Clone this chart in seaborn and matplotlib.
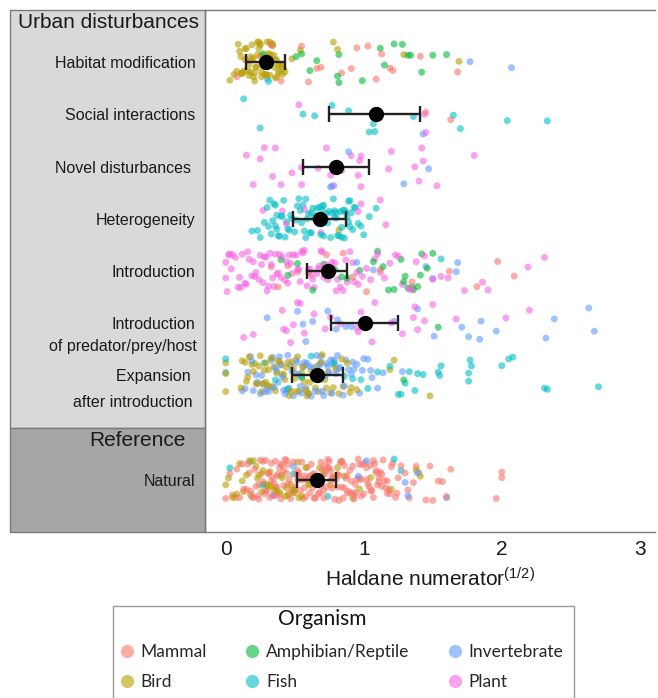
import numpy as np
import pandas as pd
import matplotlib
matplotlib.use("Agg")
import matplotlib.pyplot as plt
import matplotlib.patches as mpatches
from matplotlib.lines import Line2D
import seaborn as sns

sns.set_style("white")
plt.rcParams["font.family"] = ["Liberation Sans", "DejaVu Sans"]
plt.rcParams["mathtext.fontset"] = "custom"
plt.rcParams["mathtext.rm"] = "Liberation Sans"
plt.rcParams["mathtext.it"] = "Liberation Sans"

# ---- categories (top to bottom); the blank slot separates the reference group
CATEGORIES = ["Habitat modification", "Social interactions", "Novel disturbances",
              "Heterogeneity", "Introduction", "Introduction of predator/prey/host",
              "Expansion after introduction", " ", "Natural"]
TICK_LABELS = ["Habitat modification", "Social interactions", "Novel disturbances ",
               "Heterogeneity", "Introduction", "Introduction", "Expansion ", "", "Natural"]
ORGANISMS = ["Mammal", "Bird", "Amphibian/Reptile", "Fish", "Invertebrate", "Plant"]
COLORS = ["#F8766D", "#B79F00", "#00BA38", "#00BFC4", "#619CFF", "#F564E3"]

# ---- model estimates (mean and interval) per category
EST_CATEGORY = ["Habitat modification", "Social interactions", "Novel disturbances",
                "Heterogeneity", "Introduction", "Introduction of predator/prey/host",
                "Expansion after introduction", "Natural"]
EST_MEAN = [0.29, 1.09, 0.80, 0.68, 0.74, 1.01, 0.66, 0.66]
EST_LOW = [0.145, 0.75, 0.56, 0.49, 0.59, 0.76, 0.48, 0.52]
EST_HIGH = [0.43, 1.41, 1.04, 0.87, 0.88, 1.25, 0.85, 0.80]

# ---- observed values per category and organism
habitat = {
    "Bird": [0.03, 0.06, 0.08, 0.10, 0.11, 0.12, 0.13, 0.14, 0.15, 0.16, 0.17, 0.18, 0.19,
             0.20, 0.20, 0.21, 0.22, 0.23, 0.24, 0.25, 0.25, 0.26, 0.27, 0.28, 0.28, 0.29,
             0.30, 0.31, 0.32, 0.33, 0.33, 0.34, 0.35, 0.36, 0.37, 0.38, 0.39, 0.40, 0.41,
             0.42, 0.43, 0.12, 0.18, 0.24, 0.31, 0.36, 0.48, 0.54, 0.78, 0.81, 1.29, 1.69,
             0.09, 0.14, 0.17, 0.21, 0.23, 0.26, 0.29, 0.30, 0.32, 0.34, 0.35, 0.38, 0.40,
             0.27, 0.19, 0.37, 0.22, 0.33],
    "Mammal": [0.08, 0.11, 0.33, 0.40, 0.55, 0.60, 0.66, 0.69, 0.84, 0.91, 0.95, 1.03,
               1.09, 1.13, 1.19, 1.21, 1.41, 1.68, 0.16, 0.25],
    "Amphibian/Reptile": [0.27, 0.51, 0.55, 0.61, 0.66, 0.81, 0.82, 0.82, 0.99, 1.12,
                          1.15, 1.22, 1.28, 1.32, 1.34, 1.42, 1.50, 1.60],
    "Invertebrate": [0.30, 1.77, 2.07],
    "Fish": [0.31],
}
social = {
    "Fish": [0.13, 0.25, 0.56, 0.645, 0.77, 0.89, 1.04, 1.07, 1.08, 1.36, 1.65, 1.70,
             2.04, 2.33],
    "Mammal": [1.45, 1.63],
    "Plant": [0.53, 1.44, 1.45],
    "Invertebrate": [1.43],
}
novel = {
    "Plant": [0.15, 0.20, 0.25, 0.28, 0.34, 0.36, 0.40, 0.48, 0.55, 0.55, 0.67, 0.73,
              0.76, 0.785, 0.81, 0.84, 0.91, 0.96, 0.97, 0.98, 0.98, 1.18, 1.20, 1.37,
              1.40, 1.42, 1.43, 1.53, 1.80],
    "Invertebrate": [0.76, 0.77, 0.89, 1.29, 1.47],
}
heterogeneity = {
    "Fish": [0.19, 0.23, 0.25, 0.28, 0.30, 0.31, 0.33, 0.34, 0.35, 0.36, 0.37, 0.37, 0.38,
             0.39, 0.40, 0.42, 0.43, 0.45, 0.47, 0.48, 0.50, 0.51, 0.52, 0.53, 0.55, 0.56,
             0.57, 0.58, 0.60, 0.61, 0.62, 0.63, 0.64, 0.66, 0.67, 0.68, 0.69, 0.70, 0.71,
             0.72, 0.73, 0.74, 0.76, 0.77, 0.78, 0.79, 0.80, 0.81, 0.82, 0.83, 0.84, 0.85,
             0.86, 0.87, 0.88, 0.89, 0.89, 0.90, 0.91, 0.92, 0.93, 0.94, 0.96, 0.98, 1.00,
             1.04, 1.09, 0.41, 0.54, 0.65, 0.75, 0.62, 0.36, 0.86, 0.80, 0.70, 0.32, 0.46,
             0.58, 0.68, 0.79, 0.84, 0.90, 0.44, 0.59, 0.71],
    "Plant": [0.27, 0.41, 0.44, 0.57, 0.69, 0.96, 0.98, 1.12, 1.16],
    "Bird": [0.82],
}
introduction = {
    "Plant": [0.00, 0.00, 0.01, 0.02, 0.04, 0.05, 0.07, 0.09, 0.10, 0.12, 0.14, 0.16, 0.17,
              0.19, 0.21, 0.22, 0.24, 0.26, 0.27, 0.29, 0.30, 0.31, 0.33, 0.34, 0.35, 0.37,
              0.38, 0.39, 0.41, 0.43, 0.44, 0.46, 0.48, 0.49, 0.51, 0.52, 0.54, 0.56, 0.57,
              0.59, 0.61, 0.62, 0.64, 0.66, 0.67, 0.69, 0.71, 0.73, 0.75, 0.77, 0.79, 0.81,
              0.83, 0.85, 0.88, 0.90, 0.93, 0.96, 0.99, 1.02, 1.05, 1.08, 1.12, 1.15, 1.19,
              1.23, 1.28, 1.33, 1.38, 1.44, 1.50, 1.56, 1.61, 1.73, 1.86, 1.90, 2.19, 2.31,
              0.15, 0.28, 0.45, 0.53, 0.60, 0.70, 0.36, 0.92, 0.03, 0.11, 0.20, 0.25, 0.32,
              0.40, 0.47, 0.55, 0.63, 0.68, 0.74, 0.80, 0.87, 0.95, 1.10, 1.25, 1.35],
    "Mammal": [0.33, 0.38, 0.45, 0.52, 0.60, 0.73, 0.85, 0.92, 1.02, 1.12, 1.35, 1.62,
               1.82, 1.97, 2.09],
    "Amphibian/Reptile": [0.40, 0.45, 0.52, 0.63, 0.71, 0.79, 0.84, 0.88, 0.97, 1.07, 1.10,
                          1.14, 1.18, 1.22, 1.27, 1.29, 1.32, 1.35, 1.39, 1.42, 1.46, 1.50,
                          1.30, 1.36, 1.41],
    "Invertebrate": [0.95, 1.07, 1.45, 1.50, 1.67, 1.68],
    "Fish": [1.56],
}
predator = {
    "Plant": [0.13, 0.20, 0.41, 0.44, 0.49, 0.54, 0.57, 0.64, 0.72, 0.76, 0.83, 0.95, 0.96,
              0.98, 1.06, 1.08, 1.20, 1.28, 1.36, 1.37, 1.39, 1.44, 1.50, 1.67, 2.03, 2.20,
              0.42, 0.47, 0.52],
    "Invertebrate": [0.30, 0.52, 0.56, 0.58, 0.63, 0.74, 0.80, 0.81, 0.87, 0.91, 1.22, 1.39,
                     1.51, 1.71, 1.76, 1.84, 1.85, 1.96, 2.32, 2.38, 2.63, 2.67],
    "Amphibian/Reptile": [1.54],
}
expansion = {
    "Bird": [0.00, 0.00, 0.00, 0.11, 0.14, 0.17, 0.19, 0.21, 0.23, 0.24, 0.26, 0.28, 0.29,
             0.31, 0.32, 0.34, 0.35, 0.36, 0.38, 0.39, 0.41, 0.42, 0.44, 0.45, 0.47, 0.48,
             0.50, 0.51, 0.53, 0.55, 0.56, 0.58, 0.60, 0.61, 0.63, 0.65, 0.66, 0.68, 0.70,
             0.72, 0.74, 0.76, 0.78, 0.80, 0.82, 0.85, 0.88, 0.91, 0.95, 1.19, 1.22, 1.48,
             0.22, 0.33, 0.40, 0.27, 0.52, 0.69, 0.12, 0.16, 0.20, 0.25, 0.30, 0.37, 0.43,
             0.49, 0.57, 0.62, 0.67, 0.73, 0.79, 0.84, 0.90, 0.15, 0.29, 0.46, 0.59],
    "Invertebrate": [0.12, 0.14, 0.16, 0.18, 0.20, 0.22, 0.23, 0.25, 0.27, 0.28, 0.30, 0.31,
                     0.33, 0.35, 0.36, 0.38, 0.39, 0.40, 0.42, 0.43, 0.45, 0.46, 0.48, 0.49,
                     0.50, 0.52, 0.53, 0.54, 0.56, 0.57, 0.58, 0.60, 0.61, 0.62, 0.64, 0.65,
                     0.66, 0.68, 0.69, 0.71, 0.72, 0.74, 0.75, 0.77, 0.78, 0.80, 0.82, 0.83,
                     0.85, 0.87, 0.89, 0.91, 0.93, 0.95, 0.97, 1.00, 1.03, 1.06, 1.10, 1.14,
                     1.28, 0.34, 0.44, 0.59, 0.70, 0.79, 0.19, 0.26, 0.37, 0.47, 0.51, 0.55,
                     0.63, 0.67, 0.73, 0.76, 0.81, 0.86, 0.92, 0.99, 1.05, 0.41, 0.58, 0.69],
    "Fish": [0.00, 0.00, 0.28, 0.36, 0.45, 0.55, 0.62, 0.70, 0.78, 0.86, 0.92, 0.98, 1.03,
             1.10, 1.19, 1.25, 1.27, 1.30, 1.33, 1.37, 1.39, 1.43, 1.54, 1.55, 1.56, 1.76,
             1.76, 1.77, 1.78, 2.00, 2.05, 2.08, 2.31, 2.33, 2.70],
    "Amphibian/Reptile": [0.55, 1.29],
}
natural = {
    "Bird": [0.00, 0.02, 0.05, 0.08, 0.10, 0.13, 0.15, 0.18, 0.20, 0.22, 0.24, 0.26, 0.28,
             0.30, 0.32, 0.33, 0.35, 0.37, 0.39, 0.41, 0.43, 0.45, 0.47, 0.50, 0.52, 0.55,
             0.58, 0.61, 0.64, 0.68, 0.72, 0.76, 0.81, 0.86, 0.92, 1.20, 1.38, 1.41, 0.12,
             0.17, 0.23, 0.27, 0.31, 0.36, 0.40, 0.44, 0.49, 0.53, 0.60, 0.66, 0.70, 0.78,
             0.84, 0.97, 1.05],
    "Fish": [0.03, 0.18, 0.27, 0.49, 0.74, 1.22, 1.27],
    "Invertebrate": [0.34, 0.49, 0.96, 1.02, 1.30, 1.32, 1.39, 1.60],
    "Mammal": [0.00, 0.03, 0.05, 0.07, 0.08, 0.10, 0.12, 0.13, 0.15, 0.16, 0.17, 0.19, 0.20,
               0.21, 0.22, 0.23, 0.24, 0.25, 0.26, 0.27, 0.28, 0.29, 0.30, 0.31, 0.31, 0.32,
               0.33, 0.34, 0.35, 0.36, 0.36, 0.37, 0.38, 0.39, 0.40, 0.40, 0.41, 0.42, 0.43,
               0.44, 0.45, 0.45, 0.46, 0.47, 0.48, 0.49, 0.50, 0.50, 0.51, 0.52, 0.53, 0.54,
               0.55, 0.55, 0.56, 0.57, 0.58, 0.59, 0.60, 0.60, 0.61, 0.62, 0.63, 0.64, 0.65,
               0.65, 0.66, 0.67, 0.68, 0.69, 0.70, 0.71, 0.72, 0.72, 0.73, 0.74, 0.75, 0.76,
               0.77, 0.78, 0.79, 0.80, 0.81, 0.82, 0.83, 0.84, 0.85, 0.86, 0.87, 0.88, 0.89,
               0.90, 0.91, 0.92, 0.93, 0.94, 0.95, 0.96, 0.97, 0.98, 0.99, 1.00, 1.01, 1.02,
               1.03, 1.04, 1.05, 1.06, 1.07, 1.08, 1.09, 1.10, 1.11, 1.12, 1.13, 1.14, 1.15,
               1.16, 1.17, 1.18, 1.19, 1.21, 1.23, 1.25, 1.27, 1.30, 1.33, 1.36, 1.40, 1.45,
               1.50, 1.54, 1.57, 1.60, 1.63, 1.96, 2.00, 2.00, 0.18, 0.24, 0.29, 0.33, 0.37,
               0.42, 0.46, 0.49, 0.53, 0.57, 0.61, 0.64, 0.67, 0.71, 0.74, 0.77, 0.81, 0.84,
               0.88, 0.91, 0.94, 0.98, 1.02, 1.05, 1.09, 1.13, 1.17, 1.20, 0.27, 0.39, 0.52,
               0.63, 0.75, 0.86, 0.97, 1.07, 0.44, 0.58, 0.69, 0.82, 0.93, 1.11, 0.35, 0.76,
               1.24, 1.32, 1.38, 1.48],
}

GROUPS = {
    "Habitat modification": habitat,
    "Social interactions": social,
    "Novel disturbances": novel,
    "Heterogeneity": heterogeneity,
    "Introduction": introduction,
    "Introduction of predator/prey/host": predator,
    "Expansion after introduction": expansion,
    "Natural": natural,
}

rows = []
for cat, by_org in GROUPS.items():
    for org, vals in by_org.items():
        for v in vals:
            rows.append((cat, org, v))
df = pd.DataFrame(rows, columns=["category", "organism", "value"])
df = df.sample(frac=1.0, random_state=7).reset_index(drop=True)

W, H = 658, 698
fig = plt.figure(figsize=(W / 100, H / 100), dpi=100)

def fx(px):
    return px / W

def fy(py):
    return 1 - py / H

# side panels for the two groups (behind the axes and its tick labels)
edge = "#7a7a7a"
fig.patches.append(mpatches.Rectangle((fx(10), fy(428)), fx(195), 418 / H,
                                      transform=fig.transFigure, facecolor="#d9d9d9",
                                      edgecolor=edge, lw=1.0, zorder=-2))
fig.patches.append(mpatches.Rectangle((fx(10), fy(532)), fx(195), 104 / H,
                                      transform=fig.transFigure, facecolor="#a6a6a6",
                                      edgecolor=edge, lw=1.0, zorder=-2))
fig.text(fx(18), fy(22), "Urban disturbances", fontsize=15, ha="left", va="center",
         color="#1a1a1a")
fig.text(fx(137), fy(441), "Reference", fontsize=15, ha="center", va="center",
         color="#1a1a1a")

ax = fig.add_axes([fx(205), fy(532), fx(450), 522 / H])
ax.set_facecolor("none")

np.random.seed(11)
sns.stripplot(data=df, x="value", y="category", hue="organism", order=CATEGORIES,
              hue_order=ORGANISMS, palette=COLORS, jitter=0.4, size=5.0, alpha=0.6,
              linewidth=0, legend=False, ax=ax, zorder=2)

pos = [CATEGORIES.index(c) for c in EST_CATEGORY]
mean = np.array(EST_MEAN)
ax.errorbar(mean, pos, xerr=[mean - np.array(EST_LOW), np.array(EST_HIGH) - mean],
            fmt="o", color="black", ecolor="#222222", ms=10, elinewidth=1.7,
            capsize=5.5, capthick=1.7, zorder=5)

ax.set_ylim(9, -1)
ax.set_xlim(-0.15, 3.11)
ax.set_xticks([0, 1, 2, 3])
ax.set_xticklabels(["0", "1", "2", "3"], fontsize=15, color="#1a1a1a")
ax.set_yticks(range(len(CATEGORIES)))
ax.set_yticklabels(TICK_LABELS, fontsize=11.5, color="#1a1a1a")
ax.tick_params(axis="both", length=4, width=1, color="#555555", pad=2)
ax.tick_params(axis="y", pad=3)
ax.set_ylabel("")
ax.set_xlabel(r"Haldane numerator$^{(1/2)}$", fontsize=15, color="#1a1a1a", labelpad=6)

# second lines of the two-line category names
trans = ax.get_yaxis_transform()
ax.text(-0.018, 5.45, "of predator/prey/host", transform=trans, ha="right", va="center",
        fontsize=11.5, color="#1a1a1a", clip_on=False)
ax.text(-0.018, 6.51, "after introduction ", transform=trans, ha="right", va="center",
        fontsize=11.5, color="#1a1a1a", clip_on=False)

for side in ["top", "bottom", "left"]:
    ax.spines[side].set_color(edge)
    ax.spines[side].set_linewidth(1.0)
ax.spines["right"].set_visible(False)

# legend
fig.patches.append(mpatches.Rectangle((fx(113), fy(705)), fx(461), 99 / H,
                                      transform=fig.transFigure, facecolor="white",
                                      edgecolor="#9a9a9a", lw=1.0, zorder=-2))
fig.text(fx(322), fy(619), "Organism", fontsize=15, ha="center", va="center",
         family="Lato", color="#111111")
handles = [Line2D([], [], marker="o", linestyle="none", markersize=9.5, alpha=0.6,
                  markerfacecolor=c, markeredgewidth=0) for c in COLORS]
fig.legend(handles, ORGANISMS, ncol=3, loc="upper left",
           bbox_to_anchor=(fx(120), fy(644)), frameon=False, borderpad=0,
           borderaxespad=0, handlelength=0.8, handletextpad=0.4, columnspacing=2.2,
           labelspacing=0.8, prop={"family": "Lato", "size": 12.5})

fig.savefig("out.png", dpi=100)
